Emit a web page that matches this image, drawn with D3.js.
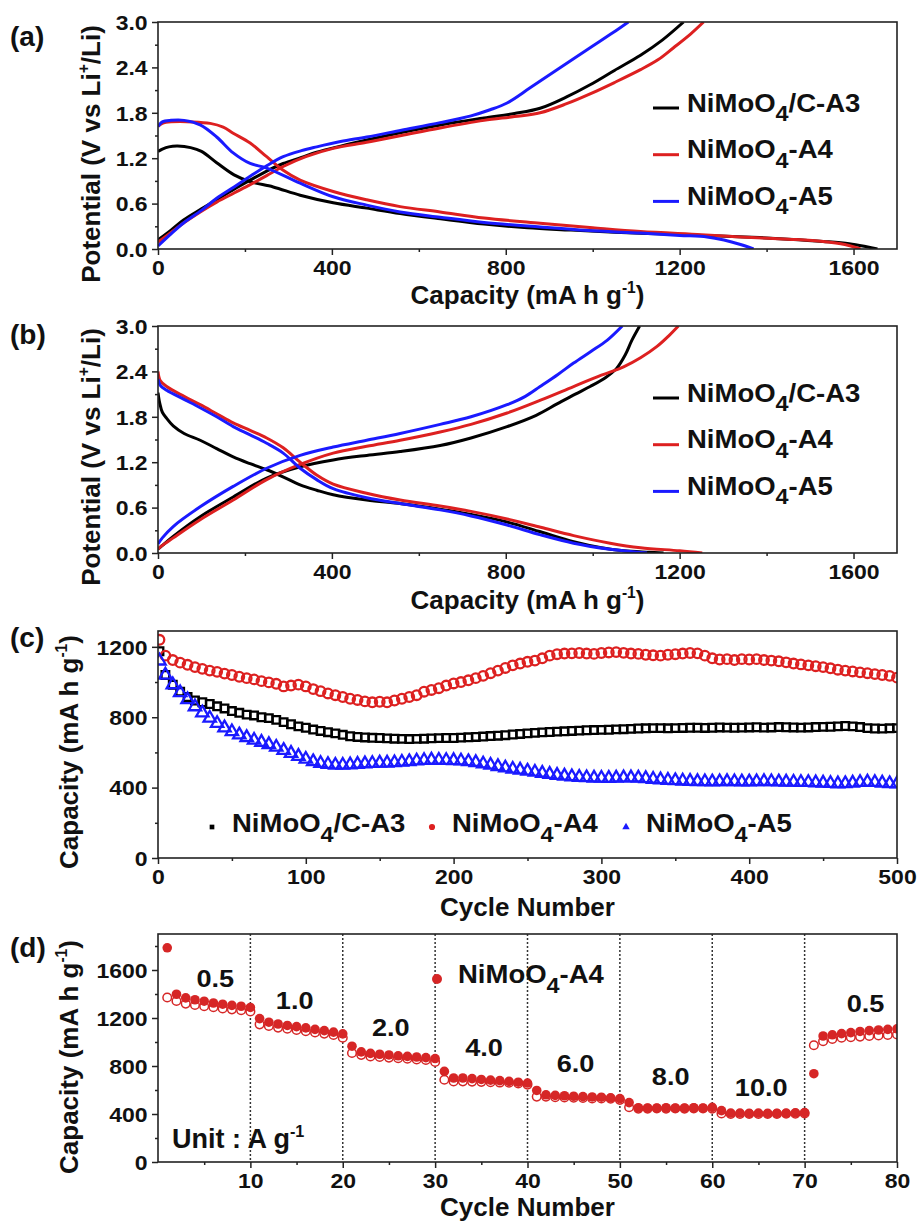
<!DOCTYPE html>
<html lang="en">
<head>
<meta charset="utf-8">
<title>NiMoO4 electrochemistry</title>
<script src="https://cdn.jsdelivr.net/npm/d3@7"></script>
<style>
  body { margin: 0; background: #fff; }
  text { font-family: "Liberation Sans", Arial, sans-serif; font-weight: bold; fill: #111; }
</style>
</head>
<body>
<svg id="fig" width="920" height="1224"></svg>
<script>
// ---- series names / colours
const seriesNames = ["NiMoO4/C-A3", "NiMoO4-A4", "NiMoO4-A5"];
const seriesColors = ["#000000", "#dd2020", "#1a1aff"];

// ---- (a) first cycle, [capacity mA h/g, potential V]
const aDisA3 = [[0,1.29],[10,1.32],[25,1.35],[45,1.36],[75,1.34],[100,1.29],[135,1.14],[175,0.98],[212,0.89],[265,0.82],[327,0.71],[403,0.61],[480,0.54],[557,0.47],[650,0.40],[750,0.33],[850,0.28],[950,0.25],[1050,0.22],[1150,0.20],[1250,0.18],[1350,0.16],[1450,0.13],[1530,0.10],[1590,0.07],[1630,0.03],[1655,0]];
const aDisA4 = [[0,1.62],[10,1.66],[30,1.68],[80,1.68],[120,1.66],[150,1.61],[173,1.53],[212,1.40],[250,1.22],[288,1.04],[327,0.91],[403,0.76],[480,0.65],[557,0.56],[649,0.49],[750,0.41],[879,0.34],[1000,0.28],[1110,0.23],[1250,0.19],[1340,0.16],[1450,0.13],[1530,0.10],[1580,0.06],[1616,0]];
const aDisA5 = [[0,1.62],[10,1.68],[30,1.70],[60,1.70],[97,1.64],[135,1.48],[173,1.27],[212,1.13],[250,1.07],[327,0.87],[403,0.69],[480,0.58],[557,0.49],[649,0.42],[750,0.35],[879,0.29],[1000,0.24],[1110,0.21],[1200,0.18],[1263,0.16],[1302,0.12],[1340,0.06],[1370,0]];
const aChaA3 = [[0,0.12],[30,0.25],[58,0.38],[100,0.53],[135,0.65],[175,0.79],[212,0.91],[250,1.03],[288,1.13],[330,1.21],[365,1.28],[420,1.36],[480,1.44],[560,1.54],[650,1.64],[750,1.73],[820,1.79],[879,1.86],[940,2.01],[994,2.17],[1050,2.36],[1110,2.56],[1160,2.76],[1209,3.0]];
const aChaA4 = [[0,0.09],[30,0.22],[58,0.34],[100,0.50],[135,0.62],[175,0.74],[212,0.85],[250,0.97],[288,1.09],[340,1.22],[403,1.33],[480,1.41],[560,1.50],[649,1.60],[750,1.70],[820,1.75],[879,1.80],[940,1.92],[994,2.05],[1050,2.20],[1110,2.37],[1150,2.50],[1186,2.66],[1225,2.84],[1255,3.0]];
const aChaA5 = [[0,0.04],[30,0.20],[58,0.34],[100,0.51],[135,0.67],[175,0.82],[212,0.96],[250,1.10],[288,1.22],[330,1.30],[365,1.35],[420,1.42],[480,1.48],[560,1.57],[649,1.67],[720,1.76],[764,1.84],[803,1.93],[856,2.13],[918,2.37],[994,2.66],[1047,2.86],[1082,3.0]];

// ---- (b) later cycle
const bDisA3 = [[0,2.12],[4,1.98],[10,1.86],[20,1.78],[35,1.68],[60,1.58],[97,1.49],[135,1.38],[173,1.27],[212,1.18],[250,1.10],[290,1.00],[327,0.90],[365,0.83],[403,0.77],[480,0.70],[560,0.65],[649,0.58],[720,0.51],[803,0.41],[880,0.28],[956,0.15],[1020,0.07],[1071,0.03],[1130,0.01],[1163,0]];
const bDisA4 = [[0,2.40],[5,2.28],[20,2.20],[60,2.07],[97,1.96],[135,1.84],[173,1.72],[212,1.62],[250,1.52],[288,1.39],[327,1.20],[365,1.03],[403,0.91],[480,0.79],[557,0.70],[649,0.62],[720,0.55],[803,0.45],[880,0.34],[956,0.23],[1040,0.13],[1110,0.07],[1200,0.03],[1252,0]];
const bDisA5 = [[0,2.30],[5,2.22],[20,2.15],[60,2.03],[97,1.92],[135,1.80],[173,1.67],[212,1.56],[250,1.45],[288,1.32],[327,1.12],[365,0.97],[403,0.85],[480,0.73],[560,0.65],[649,0.57],[720,0.49],[803,0.37],[880,0.24],[956,0.13],[1040,0.05],[1125,0]];
const bChaA3 = [[0,0.05],[10,0.10],[35,0.22],[97,0.48],[173,0.74],[250,0.99],[327,1.14],[403,1.23],[480,1.29],[557,1.34],[649,1.42],[720,1.52],[803,1.67],[870,1.82],[918,1.97],[960,2.10],[994,2.20],[1030,2.32],[1055,2.44],[1075,2.62],[1090,2.81],[1108,3.0]];
const bChaA4 = [[0,0.05],[10,0.10],[35,0.20],[97,0.44],[173,0.70],[250,0.97],[327,1.17],[403,1.32],[480,1.41],[557,1.49],[649,1.60],[720,1.70],[803,1.85],[880,2.02],[956,2.20],[1020,2.35],[1071,2.46],[1110,2.58],[1148,2.73],[1175,2.87],[1197,3.0]];
const bChaA5 = [[0,0.12],[10,0.20],[35,0.35],[97,0.61],[173,0.88],[250,1.12],[327,1.29],[403,1.40],[480,1.49],[557,1.58],[649,1.70],[720,1.80],[803,1.96],[845,2.07],[879,2.20],[920,2.36],[956,2.51],[995,2.66],[1033,2.81],[1068,3.0]];

// ---- (c) cycling, capacity at cycle 1 then every 5 cycles
const cCycles = [1].concat(d3.range(5, 501, 5));
const cA3 = [1175,1040,985,945,915,895,885,875,862,850,835,
  825,815,810,800,795,785,772,760,748,740,
  730,722,715,708,700,692,688,685,683,682,
  680,678,677,676,677,678,680,681,682,682,
  684,686,688,690,693,695,698,702,705,708,
  711,714,716,718,720,722,724,726,727,728,
  729,731,732,734,736,737,738,738,737,738,
  739,740,740,739,740,742,741,740,741,742,
  743,741,742,744,743,742,741,742,744,745,
  746,748,750,748,744,738,736,735,737,738];
const cA4 = [1240,1150,1125,1110,1098,1085,1075,1065,1058,1048,1040,
  1030,1022,1015,1005,998,990,975,980,985,975,
  960,948,935,925,915,905,898,890,885,888,
  885,895,905,915,925,945,955,965,980,992,
  1000,1010,1022,1035,1050,1065,1080,1095,1105,1115,
  1122,1135,1150,1158,1162,1163,1165,1162,1160,1165,
  1168,1170,1166,1162,1160,1155,1152,1150,1155,1158,
  1162,1165,1163,1150,1135,1128,1130,1125,1130,1128,
  1130,1125,1122,1118,1112,1105,1100,1095,1090,1085,
  1078,1070,1065,1060,1055,1050,1045,1040,1035,1025];
const cA5 = [1120,1040,985,940,900,860,825,795,765,740,718,
  700,685,670,658,645,630,612,595,578,562,
  548,538,532,528,528,530,533,536,538,540,
  540,542,545,548,552,555,557,556,555,554,
  552,548,543,535,528,520,512,505,500,494,
  488,482,476,470,466,462,459,457,455,454,
  453,455,456,456,455,452,448,445,442,440,
  438,436,435,434,433,434,435,434,433,433,
  434,435,434,433,432,431,430,430,428,426,
  424,422,423,426,430,432,430,426,423,422];

// ---- (d) rate test, NiMoO4-A4, cycles 1..80
const dCycles = d3.range(1, 81);
const dDischarge = [1785,1398,1368,1352,1340,1325,1315,1305,1298,1288,
  1195,1165,1150,1138,1128,1118,1105,1095,1082,1068,
  965,918,905,898,892,885,880,875,870,862,
  755,700,700,695,688,682,678,672,665,658,
  596,560,555,552,548,545,542,540,535,528,
  495,452,450,450,452,450,450,452,450,455,
  428,408,408,406,408,406,406,408,410,412,
  736,1050,1060,1070,1078,1088,1095,1100,1105,1110];
const dCharge = [1371,1342,1320,1308,1298,1290,1280,1272,1265,1255,
  1147,1133,1120,1110,1100,1090,1080,1070,1058,1035,
  908,893,880,875,870,865,860,855,850,834,
  685,671,672,670,668,665,662,660,655,645,
  545,545,540,538,535,533,530,530,528,518,
  456,445,445,446,445,446,445,447,446,445,
  405,400,400,400,400,400,401,402,403,405,
  973,1007,1025,1035,1040,1045,1050,1055,1058,1063];
const rateLabels = ["0.5", "1.0", "2.0", "4.0", "6.0", "8.0", "10.0", "0.5"];
const rateSteps = [10, 20, 30, 40, 50, 60, 70];

// ---------------------------------------------------------------
const svg = d3.select("#fig");
const L = 158, R = 897;

function panel(id, top, bottom, xDom, yDom) {
  const x = d3.scaleLinear().domain(xDom).range([L, R]);
  const y = d3.scaleLinear().domain(yDom).range([bottom, top]);
  svg.append("clipPath").attr("id", id)
    .append("rect").attr("x", L).attr("y", top).attr("width", R - L).attr("height", bottom - top);
  return { id, x, y, top, bottom };
}

// text with sub/superscripts: parts = [[str], [str,"sub"], [str,"sup"]]
function richText(g, parts, size) {
  const t = g.append("text").attr("font-size", size);
  let shift = 0;
  parts.forEach(p => {
    const target = p[1] === "sub" ? size * 0.38 : p[1] === "sup" ? -size * 0.42 : 0;
    const ts = t.append("tspan").text(p[0]).attr("dy", target - shift);
    if (p[1] === "sub") ts.attr("font-size", size * 0.85);
    if (p[1] === "sup") ts.attr("font-size", size * 0.6);
    shift = target;
  });
  return t;
}

function axes(p, o) {
  const tidy = g => {
    g.attr("font-size", null).attr("font-family", null);
    g.select(".domain").remove();
    g.selectAll(".tick line").attr("stroke", "#222").attr("stroke-width", 1.5);
  };
  svg.append("g").attr("transform", `translate(0,${p.bottom})`)
    .call(d3.axisBottom(p.x).tickValues(o.xMinor).tickSize(3).tickFormat("")).call(tidy);
  svg.append("g").attr("transform", `translate(${L},0)`)
    .call(d3.axisLeft(p.y).tickValues(o.yMinor).tickSize(3).tickFormat("")).call(tidy);
  const gx = svg.append("g").attr("transform", `translate(0,${p.bottom})`)
    .call(d3.axisBottom(p.x).tickValues(o.xMajor).tickSize(6).tickFormat(o.xFmt)).call(tidy);
  gx.selectAll("text").attr("font-size", 20).attr("y", 26).attr("dy", 0)
    .attr("transform", "scale(1.15,1)");
  const gy = svg.append("g").attr("transform", `translate(${L},0)`)
    .call(d3.axisLeft(p.y).tickValues(o.yMajor).tickSize(6).tickFormat(o.yFmt)).call(tidy);
  gy.selectAll("text").attr("font-size", 20).attr("x", -9).attr("dy", "0.36em")
    .attr("transform", "scale(1.15,1)");
  svg.append("rect").attr("x", L).attr("y", p.top).attr("width", R - L).attr("height", p.bottom - p.top)
    .attr("fill", "none").attr("stroke", "#222").attr("stroke-width", 1.6);

  const xt = svg.append("g").attr("transform", `translate(${(L + R) / 2},${o.xTitleY})`);
  richText(xt, o.xTitle, 26).attr("text-anchor", "middle");
  const yt = svg.append("g").attr("transform", `translate(${o.yTitleX},${o.yTitleY}) rotate(-90)`);
  richText(yt, o.yTitle, 26).attr("text-anchor", "middle");
  svg.append("text").attr("x", 10).attr("y", o.tagY).attr("font-size", 28).text(o.tag);
}

const labelParts = [
  [["NiMoO"], ["4", "sub"], ["/C-A3"]],
  [["NiMoO"], ["4", "sub"], ["-A4"]],
  [["NiMoO"], ["4", "sub"], ["-A5"]]
];
const capTitle = [["Capacity (mA h g"], ["-1", "sup"], [")"]];
const potTitle = [["Potential (V vs Li"], ["+", "sup"], ["/Li)"]];

// ---- voltage profile panels (a), (b)
function profilePanel(p, dis, cha, legendY) {
  const line = d3.line().x(d => p.x(d[0])).y(d => p.y(d[1])).curve(d3.curveCatmullRom.alpha(0.5));
  const g = svg.append("g").attr("clip-path", `url(#${p.id})`);
  [0, 1, 2].forEach(i => {
    [dis[i], cha[i]].forEach(s => {
      g.append("path").datum(s).attr("d", line).attr("fill", "none")
        .attr("stroke", seriesColors[i]).attr("stroke-width", 3).attr("stroke-linejoin", "round");
    });
  });
  seriesNames.forEach((n, i) => {
    const yy = legendY + i * 46.7;
    svg.append("line").attr("x1", 653).attr("x2", 679).attr("y1", yy).attr("y2", yy)
      .attr("stroke", seriesColors[i]).attr("stroke-width", 3);
    const lg = svg.append("g").attr("transform", `translate(687,${yy + 3.5}) scale(1.1,1)`);
    richText(lg, labelParts[i], 25);
  });
}

const pa = panel("clipA", 22, 249, [0, 1700], [0, 3]);
const pb = panel("clipB", 326, 553, [0, 1700], [0, 3]);
const pc = panel("clipC", 631, 858, [0, 500], [0, 1290]);
const pd = panel("clipD", 934, 1162, [0, 80], [0, 1900]);

profilePanel(pa, [aDisA3, aDisA4, aDisA5], [aChaA3, aChaA4, aChaA5], 108);
profilePanel(pb, [bDisA3, bDisA4, bDisA5], [bChaA3, bChaA4, bChaA5], 398);

const profAxes = {
  xMajor: [0, 400, 800, 1200, 1600], xMinor: [200, 600, 1000, 1400],
  yMajor: [0, 0.6, 1.2, 1.8, 2.4, 3.0], yMinor: [0.3, 0.9, 1.5, 2.1, 2.7],
  xFmt: d3.format("d"), yFmt: d3.format(".1f"),
  xTitle: capTitle, yTitle: potTitle, yTitleX: 100
};
axes(pa, Object.assign({}, profAxes, { xTitleY: 304, yTitleY: 154, tag: "(a)", tagY: 46 }));
axes(pb, Object.assign({}, profAxes, { xTitleY: 609, yTitleY: 457, tag: "(b)", tagY: 344 }));

// ---- (c) cycling markers (hollow, overlapping into bands)
const symA3 = d3.symbol().type(d3.symbolSquare).size(58);
const symA4 = d3.symbol().type(d3.symbolCircle).size(72);
const symA5 = d3.symbol().type(d3.symbolTriangle).size(66);
const cSets = [[cA3, symA3], [cA4, symA4], [cA5, symA5]];
const gc = svg.append("g").attr("clip-path", "url(#clipC)");
cSets.forEach(([vals, sym], i) => {
  gc.append("g").selectAll("path").data(vals).join("path")
    .attr("transform", (d, j) => `translate(${pc.x(cCycles[j])},${pc.y(d)})`)
    .attr("d", sym()).attr("fill", "none")
    .attr("stroke", seriesColors[i]).attr("stroke-width", 2.3);
});
axes(pc, {
  xMajor: [0, 100, 200, 300, 400, 500], xMinor: [50, 150, 250, 350, 450],
  yMajor: [0, 400, 800, 1200], yMinor: [200, 600, 1000],
  xFmt: d3.format("d"), yFmt: d3.format("d"),
  xTitle: [["Cycle Number"]], yTitle: capTitle, yTitleX: 78, xTitleY: 916, yTitleY: 752,
  tag: "(c)", tagY: 647
});
const cLegX = [212, 432, 626];
const cLegSym = [
  d3.symbol().type(d3.symbolSquare).size(22),
  d3.symbol().type(d3.symbolCircle).size(30),
  d3.symbol().type(d3.symbolTriangle).size(24)
];
seriesNames.forEach((n, i) => {
  svg.append("path").attr("transform", `translate(${cLegX[i]},827)`).attr("d", cLegSym[i]())
    .attr("fill", seriesColors[i]);
  const lg = svg.append("g").attr("transform", `translate(${cLegX[i] + 20},832) scale(1.1,1)`);
  richText(lg, labelParts[i], 25);
});

// ---- (d) rate capability
const gd = svg.append("g").attr("clip-path", "url(#clipD)");
gd.selectAll("line.step").data(rateSteps).join("line")
  .attr("x1", d => pd.x(d)).attr("x2", d => pd.x(d))
  .attr("y1", pd.top).attr("y2", pd.bottom)
  .attr("stroke", "#333").attr("stroke-width", 1.5).attr("stroke-dasharray", "2,2");
gd.append("g").selectAll("circle").data(dCharge).join("circle")
  .attr("cx", (d, i) => pd.x(dCycles[i])).attr("cy", d => pd.y(d)).attr("r", 4.3)
  .attr("fill", "#fff").attr("stroke", "#d62626").attr("stroke-width", 1.5);
gd.append("g").selectAll("circle").data(dDischarge).join("circle")
  .attr("cx", (d, i) => pd.x(dCycles[i])).attr("cy", d => pd.y(d)).attr("r", 4.8)
  .attr("fill", "#d62626");
axes(pd, {
  xMajor: [10, 20, 30, 40, 50, 60, 70, 80], xMinor: [5, 15, 25, 35, 45, 55, 65, 75],
  yMajor: [0, 400, 800, 1200, 1600], yMinor: [200, 600, 1000, 1400, 1800],
  xFmt: d3.format("d"), yFmt: d3.format("d"),
  xTitle: [["Cycle Number"]], yTitle: capTitle, yTitleX: 78, xTitleY: 1216, yTitleY: 1057,
  tag: "(d)", tagY: 957
});
// current-density labels, placed over each step
const ratePos = [[6.2, 1457], [14.8, 1273], [25.2, 1054], [35.3, 881], [45.2, 747], [55.5, 638], [65.3, 551], [76.6, 1250]];
rateLabels.forEach((t, i) => {
  svg.append("text")
    .attr("transform", `translate(${pd.x(ratePos[i][0])},${pd.y(ratePos[i][1])}) scale(1.18,1)`)
    .attr("text-anchor", "middle").attr("font-size", 23).text(t);
});
svg.append("circle").attr("cx", 437).attr("cy", 979).attr("r", 5).attr("fill", "#d62626");
richText(svg.append("g").attr("transform", "translate(458,983) scale(1.1,1)"), [["NiMoO"], ["4", "sub"], ["-A4"]], 25);
richText(svg.append("g").attr("transform", "translate(172,1148)"), [["Unit : A g"], ["-1", "sup"]], 27);
</script>
</body>
</html>
